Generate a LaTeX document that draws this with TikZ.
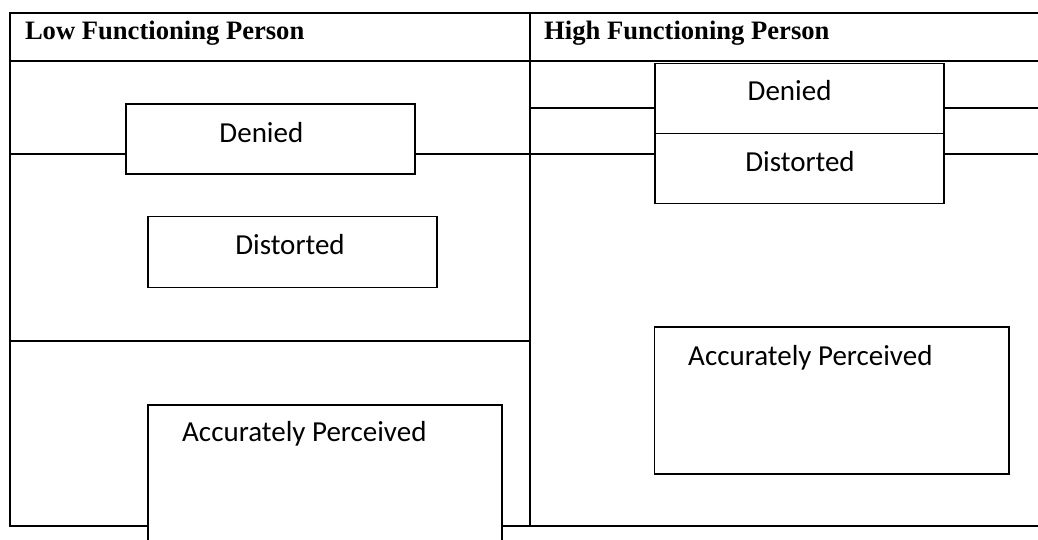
\documentclass[tikz,border=0pt]{standalone}
\usepackage{fontspec}
\setmainfont{Liberation Serif}
\newfontfamily\boxfont{Carlito}
\usetikzlibrary{positioning}

\begin{document}
\begin{tikzpicture}[x=1pt, y=-1pt,
  rule/.style={line width=2pt},
  frame/.style={rectangle, draw, fill=white, line width=1.5pt, inner sep=0pt, anchor=north west},
  head/.style={font=\fontsize{26.6}{32}\selectfont\bfseries, inner sep=0pt, anchor=base west},
  boxtext/.style={font=\boxfont\fontsize{29}{34}\selectfont, inner sep=0pt}
]
\useasboundingbox (0,0) rectangle (1038,539);
\clip (0,0) rectangle (1038,539);

% table rules
\draw[rule] (1042,12.7) -- (9.5,12.7) -- (9.5,525.7) -- (1042,525.7);
\draw[rule] (530,12.7) -- (530,525.7);
\draw[rule] (9.5,61) -- (1042,61);
\draw[rule] (9.5,154.3) -- (1042,154.3);
\draw[rule] (530,107.7) -- (1042,107.7);
\draw[rule] (9.5,340.7) -- (530,340.7);

\node[head] (lowhead) at (24.8,39.3) {Low Functioning Person};
\node[head] (highhead) at (544,39.3) {High Functioning Person};

% low functioning
\node[frame, minimum width=289pt, minimum height=70pt] (lowdenied) at (125,103) {};
\node[frame, minimum width=289pt, minimum height=71pt] (lowdistorted) at (147.4,215.7) {};
\node[frame, minimum width=354pt, minimum height=160pt] (lowaccurate) at (147,404) {};
\node[boxtext, anchor=base] (lowdeniedtext) at (261.4,142.7) {Denied};
\node[boxtext, anchor=base] (lowdistortedtext) at (290,254) {Distorted};
\node[boxtext, anchor=base west] (lowaccuratetext) at (182,441.7) {Accurately Perceived};

% high functioning
\node[frame, minimum width=289pt, minimum height=70pt] (highdenied) at (654,62.7) {};
\node[frame, minimum width=289pt, minimum height=70pt] (highdistorted) at (654,132.7) {};
\node[frame, minimum width=354.3pt, minimum height=147.3pt] (highaccurate) at (653.7,326) {};
\node[boxtext, anchor=base] (highdeniedtext) at (789.6,100.7) {Denied};
\node[boxtext, anchor=base] (highdistortedtext) at (800,171.7) {Distorted};
\node[boxtext, anchor=base west] (highaccuratetext) at (688,365) {Accurately Perceived};
\end{tikzpicture}
\end{document}
